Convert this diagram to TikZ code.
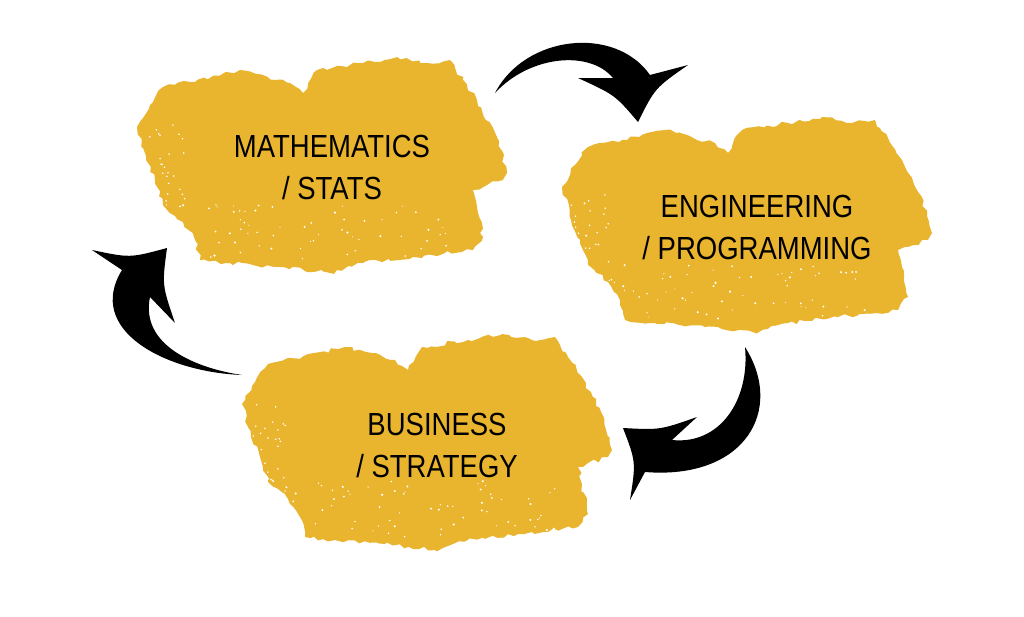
\documentclass[tikz,border=0pt]{standalone}
\usepackage{fontspec}
\newfontfamily\brushfont[FakeStretch=0.86]{Liberation Sans}
\usetikzlibrary{positioning, decorations.pathmorphing}

\definecolor{brushyellow}{RGB}{233,180,46}

\tikzset{
    brushlabel/.style={align=center, inner sep=0pt, text=black,
        font=\brushfont\fontsize{18.2pt}{23.9pt}\selectfont},
    swoosh/.style={fill=black, draw=none},
    brushblob/.pic={
        \fill[brushyellow, decorate,
              decoration={random steps, segment length=3pt, amplitude=1.2pt}]
            (137,127) -- (150,105) -- (163,87) -- (197,80) -- (240,70)
            -- (290,83) -- (303,93) -- (317,70) -- (363,63) -- (397,57)
            -- (427,63) -- (450,60) -- (455,68) -- (477,100) -- (497,137)
            -- (507,173) -- (503,180) -- (473,190) -- (477,207) -- (483,237)
            -- (473,250) -- (413,257) -- (363,263) -- (330,273) -- (280,267)
            -- (230,263) -- (200,260) -- (195,240) -- (183,222) -- (163,205)
            -- (155,180) -- (146,160) -- cycle;
        \foreach \i in {1,...,70} {
            \pgfmathsetmacro\sx{300+150*rand}
            \pgfmathsetmacro\sy{232+28*rand}
            \pgfmathsetmacro\sr{0.3+0.4*rnd}
            \fill[white] (\sx,\sy) circle (\sr pt);
        }
        \foreach \i in {1,...,25} {
            \pgfmathsetmacro\sx{165+20*rand}
            \pgfmathsetmacro\sy{165+40*rand}
            \fill[white] (\sx,\sy) circle (0.5pt);
        }
    }
}

\begin{document}
\begin{tikzpicture}[x=0.02cm, y=-0.02cm]
\pgfmathsetseed{11}
\fill[white] (0,0) rectangle (1024,616);
\useasboundingbox (0,0) rectangle (1024,616);

\pic at (0,0) {brushblob};
\pic at (425,60) {brushblob};
\pic at (105,277) {brushblob};

\node[brushlabel] (math) at (332,167) {MATHEMATICS\\/ STATS};
\node[brushlabel] (eng) at (757,227) {ENGINEERING\\/ PROGRAMMING};
\node[brushlabel] (biz) at (437,445) {BUSINESS\\/ STRATEGY};

% math -> eng
\fill[swoosh] (495,93) .. controls (525,35) and (615,25) .. (650,75)
    -- (688,65) .. controls (655,88) .. (638,122)
    .. controls (615,95) .. (578,78) -- (613,78)
    .. controls (590,50) and (530,55) .. (495,93) -- cycle;
% eng -> biz
\fill[swoosh] (745,347) .. controls (785,410) and (745,480) .. (645,472)
    -- (630,500) .. controls (636,462) .. (623,428)
    .. controls (660,430) .. (697,417) -- (672,440)
    .. controls (720,445) and (750,400) .. (745,347) -- cycle;
% biz -> math
\fill[swoosh] (242,375) .. controls (165,372) and (85,330) .. (122,270)
    -- (92,250) .. controls (130,258) .. (167,248)
    .. controls (162,285) .. (175,323) -- (150,297)
    .. controls (140,345) and (195,368) .. (242,375) -- cycle;
\end{tikzpicture}
\end{document}
